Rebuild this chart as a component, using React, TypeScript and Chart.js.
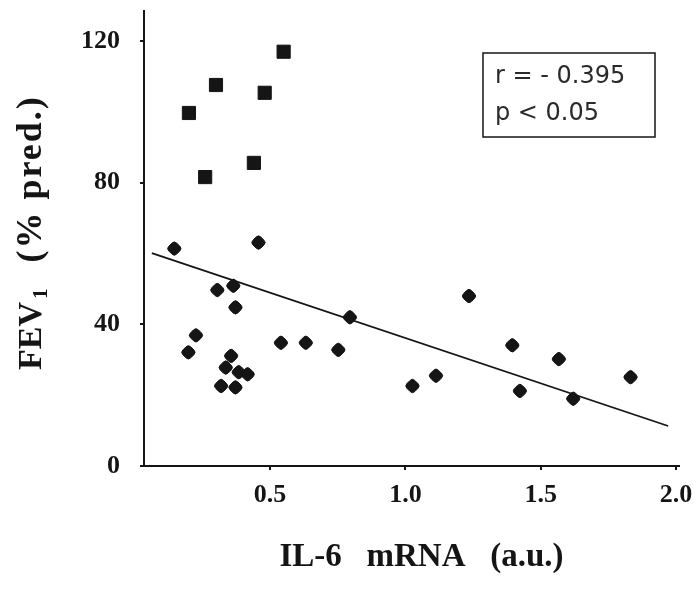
import React, { useEffect, useRef } from 'react';
import { Chart, registerables } from 'chart.js';

Chart.register(...registerables);

// FEV1 (% predicted) against IL-6 mRNA expression (arbitrary units)
const squareX = [0.20, 0.30, 0.26, 0.44, 0.48, 0.55];
const squareY = [99.7, 107.6, 81.6, 85.6, 105.4, 117.0];

const diamondX = [
  0.146, 0.457, 0.305, 0.364, 0.372, 0.226, 0.198, 0.540, 0.632, 0.752, 0.795,
  0.356, 0.336, 0.384, 0.417, 0.319, 0.372,
  1.026, 1.113, 1.235, 1.395, 1.423, 1.567, 1.620, 1.832,
];
const diamondY = [
  61.4, 63.1, 49.7, 50.9, 44.8, 36.9, 32.1, 34.8, 34.8, 32.8, 42.0,
  31.1, 27.8, 26.5, 25.9, 22.6, 22.2,
  22.6, 25.5, 48.0, 34.1, 21.2, 30.2, 19.0, 25.1,
];

// Least-squares fit line end points
const fitX = [0.063, 1.971];
const fitY = [60.1, 11.3];

const xTicks = [0.5, 1.0, 1.5, 2.0];
const xTickLabels = ['0.5', '1.0', '1.5', '2.0'];
const yTicks = [0, 40, 80, 120];
const yTickLabels = ['0', '40', '80', '120'];

const statLines = ['r = - 0.395', 'p < 0.05'];
const xTitle = 'IL-6   mRNA   (a.u.)';
const yTitleMain = 'FEV';
const yTitleSub = '1';
const yTitleRest = '(% pred.)';

const INK = '#151515';
const SERIF = '"Liberation Serif", "Times New Roman", serif';

const decorations = {
  id: 'decorations',
  afterDraw(chart: any) {
    const { ctx, chartArea } = chart;
    ctx.save();
    ctx.fillStyle = INK;

    // x-axis title
    ctx.font = `bold 33px ${SERIF}`;
    ctx.textAlign = 'center';
    ctx.textBaseline = 'middle';
    ctx.fillText(xTitle, (chartArea.left + chartArea.right) / 2 + 10, 557);

    // y-axis title with subscript, drawn bottom-to-top
    ctx.translate(41, 370);
    ctx.rotate(-Math.PI / 2);
    ctx.textAlign = 'left';
    ctx.textBaseline = 'alphabetic';
    let x = 0;
    ctx.font = `bold 34px ${SERIF}`;
    ctx.fillText(yTitleMain, x, 0);
    x += ctx.measureText(yTitleMain).width + 3;
    ctx.font = `bold 21px ${SERIF}`;
    ctx.fillText(yTitleSub, x, 6);
    x += ctx.measureText(yTitleSub).width + 26;
    ctx.font = `bold 36px ${SERIF}`;
    (ctx as any).letterSpacing = '2px';
    ctx.fillText(yTitleRest, x, 0);
    (ctx as any).letterSpacing = '0px';
    ctx.restore();

    // statistics box in the upper right corner
    ctx.save();
    const bx = chartArea.right - 196;
    const by = chartArea.top + 42;
    const bw = 172;
    const bh = 84;
    ctx.strokeStyle = INK;
    ctx.lineWidth = 1.5;
    ctx.strokeRect(bx, by, bw, bh);
    ctx.fillStyle = '#2a2a2a';
    ctx.font = '24px "DejaVu Sans", sans-serif';
    ctx.textAlign = 'left';
    ctx.textBaseline = 'middle';
    ctx.fillText(statLines[0], bx + 12, by + 24);
    ctx.fillText(statLines[1], bx + 12, by + 61);
    ctx.restore();
  },
};

export default function App() {
  const ref = useRef<HTMLCanvasElement | null>(null);

  useEffect(() => {
    if (!ref.current) return;
    const chart = new Chart(ref.current, {
      type: 'scatter',
      data: {
        datasets: [
          {
            type: 'line',
            data: fitX.map((x, i) => ({ x, y: fitY[i] })),
            borderColor: INK,
            borderWidth: 1.8,
            pointRadius: 0,
            fill: false,
            order: 3,
          } as any,
          {
            data: diamondX.map((x, i) => ({ x, y: diamondY[i] })),
            pointStyle: 'rectRounded',
            rotation: 45,
            pointRadius: 6.5,
            backgroundColor: INK,
            borderColor: INK,
            borderWidth: 1,
            order: 1,
          },
          {
            data: squareX.map((x, i) => ({ x, y: squareY[i] })),
            pointStyle: 'rect',
            pointRadius: 9.3,
            backgroundColor: INK,
            borderColor: INK,
            borderWidth: 1,
            order: 2,
          },
        ],
      },
      options: {
        animation: false,
        responsive: false,
        devicePixelRatio: 1,
        layout: { padding: { top: 11, right: 19, left: 0, bottom: 0 } },
        plugins: {
          legend: { display: false },
          tooltip: { enabled: false },
        },
        scales: {
          x: {
            type: 'linear',
            min: 0.034,
            max: 2.011,
            afterBuildTicks: (scale: any) => {
              scale.ticks = xTicks.map((v) => ({ value: v }));
            },
            afterFit: (scale: any) => {
              scale.height = 127;
              scale.paddingLeft = 0;
              scale.paddingRight = 0;
            },
            grid: {
              display: true,
              drawOnChartArea: false,
              drawTicks: true,
              tickLength: 4,
              color: INK,
              lineWidth: 2,
            },
            border: { display: true, color: INK, width: 2 },
            ticks: {
              color: INK,
              padding: 10,
              maxRotation: 0,
              font: { family: SERIF, size: 26, weight: 'bold' },
              callback: (v: any) => {
                const i = xTicks.indexOf(Number(v));
                return i >= 0 ? xTickLabels[i] : '';
              },
            },
          },
          y: {
            type: 'linear',
            min: 0,
            max: 128.5,
            afterBuildTicks: (scale: any) => {
              scale.ticks = yTicks.map((v) => ({ value: v }));
            },
            afterFit: (scale: any) => {
              scale.width = 144;
              scale.paddingTop = 0;
              scale.paddingBottom = 0;
            },
            grid: {
              display: true,
              drawOnChartArea: false,
              drawTicks: true,
              tickLength: 4,
              color: INK,
              lineWidth: 2,
            },
            border: { display: true, color: INK, width: 2 },
            ticks: {
              color: INK,
              padding: 20,
              font: { family: SERIF, size: 26, weight: 'bold' },
              callback: (v: any) => {
                const i = yTicks.indexOf(Number(v));
                return i >= 0 ? yTickLabels[i] : '';
              },
            },
          },
        },
      },
      plugins: [decorations],
    });
    return () => chart.destroy();
  }, []);

  return (
    <div
      style={{
        position: 'fixed',
        left: 0,
        top: 0,
        width: 698,
        height: 593,
        background: '#ffffff',
      }}
    >
      <canvas ref={ref} width={698} height={593} />
    </div>
  );
}
